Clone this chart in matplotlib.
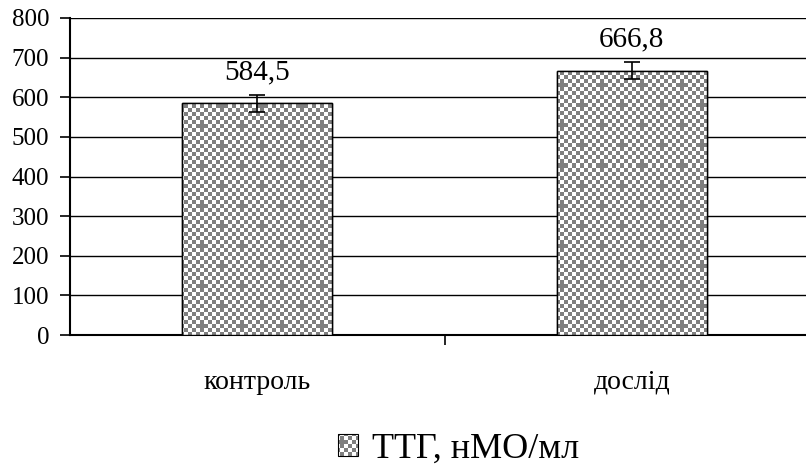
import numpy as np
import matplotlib
matplotlib.use('Agg')
import matplotlib.pyplot as plt
from matplotlib.patches import Patch, Rectangle
from matplotlib.transforms import IdentityTransform

categories = ['контроль', 'дослід']
values = [584.5, 666.8]
errors = [21, 22]
value_labels = ['584,5', '666,8']
legend_label = 'ТТГ, нМО/мл'
yticks = [0, 100, 200, 300, 400, 500, 600, 700, 800]

plt.rcParams['font.family'] = ['Liberation Serif', 'DejaVu Serif']

W, H = 806, 468
fig = plt.figure(figsize=(W / 100, H / 100), dpi=100)
ax = fig.add_axes([70 / W, (H - 335) / H, (819 - 70) / W, (335 - 18) / H])

# checkerboard texture with gray plus marks (pixel grid of the whole figure)
ii, jj = np.indices((H, W))
ci, cj = ii // 4, jj // 4
gray = (ci + cj) % 2 == 0
plus = ((ci - 1) % 5 == 0) & ((cj - 5 * (((ci - 1) // 5) % 2)) % 10 == 0)
tex = np.where(gray | plus, 0.5, 1.0)
tex = np.dstack([tex, tex, tex])

x = np.arange(len(categories))
bars = ax.bar(x, values, width=0.4, facecolor='white', edgecolor='black',
              linewidth=1, zorder=3)
for b in bars:
    im = ax.imshow(tex, extent=(0, 1, 0, 1), transform=fig.transFigure,
                   interpolation='nearest', aspect='auto', zorder=3.5)
    im.set_clip_path(b)
    edge = Rectangle(b.get_xy(), b.get_width(), b.get_height(), fill=False,
                     edgecolor='black', linewidth=1, zorder=4)
    ax.add_patch(edge)

ax.errorbar(x, values, yerr=errors, fmt='none', ecolor='black', elinewidth=1.2,
            capsize=6, capthick=1.2, zorder=5)
for xi, v, e, t in zip(x, values, errors, value_labels):
    ax.text(xi, v + e + 24, t, ha='center', va='bottom', fontsize=21)

ax.set_xlim(-0.5, 1.5)
ax.set_ylim(0, 800)
ax.set_yticks(yticks)
ax.yaxis.grid(True, color='black', linewidth=1)
ax.set_axisbelow(True)
ax.set_xticks(x)
ax.set_xticklabels(categories, fontsize=20)
ax.tick_params(axis='x', length=0, pad=25)
ax.set_xticks([0.5], minor=True)
ax.tick_params(axis='x', which='minor', length=7, width=1.2, direction='out')
ax.tick_params(axis='y', length=7, width=1.2, labelsize=18, pad=8)
for s in ['top', 'right']:
    ax.spines[s].set_visible(False)
for s in ['left', 'bottom']:
    ax.spines[s].set_linewidth(1.5)

leg = fig.legend([Patch(facecolor='none', edgecolor='none')], [legend_label],
                 loc='center', bbox_to_anchor=(0.569, 0.04), frameon=False,
                 fontsize=26, handlelength=0.55, handleheight=0.55,
                 handletextpad=0.4, borderpad=0, borderaxespad=0)
fig.canvas.draw()
hb = leg.legend_handles[0].get_window_extent()
clip = Rectangle((hb.x0, hb.y0), hb.width, hb.height, transform=IdentityTransform())
lim = fig.figimage(tex, xo=0, yo=0, origin='lower', zorder=6)
lim.set_clip_path(clip)
fig.add_artist(Rectangle((hb.x0, hb.y0), hb.width, hb.height, fill=False,
                         edgecolor='black', linewidth=0.8,
                         transform=IdentityTransform(), zorder=7))

fig.savefig('out.png', dpi=100)
